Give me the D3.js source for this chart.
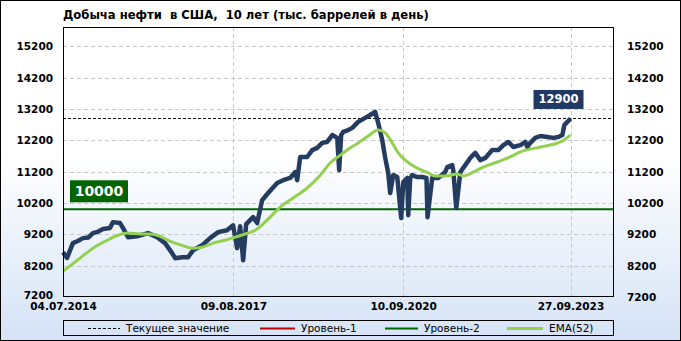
<!DOCTYPE html>
<html>
<head>
<meta charset="utf-8">
<script src="https://cdn.jsdelivr.net/npm/d3@7"></script>
<style>
  body { margin: 0; padding: 0; }
  svg { display: block; }
  text { font-family: "DejaVu Sans", Verdana, sans-serif; }
</style>
</head>
<body>
<div id="chart"></div>
<script>
// weekly production, thousand barrels per day
const prodDates = ['2014-07-04','2014-07-31','2014-09-08','2014-10-10','2014-11-14','2014-12-20','2015-01-19','2015-02-20','2015-03-27','2015-05-12','2015-06-01',
  '2015-07-18','2015-08-07','2015-09-09','2015-11-08','2016-01-20','2016-03-20','2016-05-12','2016-06-28','2016-07-18',
  '2016-09-02','2016-10-12','2016-11-14','2017-01-13','2017-03-07','2017-04-30','2017-06-28','2017-08-07','2017-09-03',
  '2017-09-23','2017-10-13','2017-11-02','2017-11-15','2017-12-18','2018-01-14','2018-02-16','2018-03-28','2018-05-27',
  '2018-07-06','2018-08-21','2018-09-24','2018-10-07','2018-10-27','2018-12-12','2019-01-15','2019-02-17','2019-03-22',
  '2019-04-24','2019-05-28','2019-06-30','2019-07-13','2019-07-26','2019-08-09','2019-09-11','2019-10-08','2019-11-16',
  '2020-01-02','2020-02-04','2020-03-08','2020-03-28','2020-04-24','2020-05-14','2020-06-03','2020-06-16','2020-07-06',
  '2020-08-02','2020-08-09','2020-08-28','2020-09-11','2020-10-07','2020-10-14','2020-10-27','2020-11-09','2020-12-13',
  '2021-01-15','2021-02-12','2021-02-19','2021-03-22','2021-05-01','2021-06-17','2021-06-30','2021-08-02','2021-08-09',
  '2021-08-29','2021-09-25','2021-10-28','2021-11-30','2022-01-02','2022-02-05','2022-03-10','2022-04-25','2022-06-04',
  '2022-07-08','2022-08-10','2022-09-12','2022-10-29','2022-12-01','2022-12-14','2023-01-03','2023-02-05','2023-03-11',
  '2023-04-26','2023-06-05','2023-07-08','2023-08-04','2023-08-17','2023-09-06','2023-09-27'];
const prodValues = [8630,8450,8920,8990,9080,9100,9240,9280,9370,9400,9590,
  9560,9400,9110,9140,9240,9110,8920,8600,8440,
  8470,8470,8690,8850,9080,9270,9330,9490,8760,
  9460,8370,9530,9590,9750,9560,10290,10520,10840,
  10930,11000,11190,10930,11670,11670,11890,11960,12120,
  12150,12370,12280,11250,12370,12470,12530,12600,12790,
  12920,13010,13110,12760,12210,11640,11160,10520,11090,
  11030,10680,9720,10870,11000,9810,11000,11090,11030,
  11030,11000,9750,11000,11000,11190,11350,11410,11250,
  10040,11190,11410,11640,11800,11570,11640,11890,11890,
  12050,12150,11990,12050,12150,11990,12120,12280,12340,
  12310,12280,12310,12370,12690,12790,12900];

// EMA(52)
const emaDates = ['2014-07-04','2014-10-25','2015-01-19','2015-04-23','2015-07-05','2015-09-03','2015-11-28','2016-02-02',
  '2016-04-09','2016-06-01','2016-09-02','2016-11-08','2017-01-13','2017-03-28','2017-06-15','2017-08-21','2017-10-26',
  '2018-01-01','2018-04-10','2018-06-16','2018-09-10','2018-12-12','2019-03-09','2019-05-14','2019-07-20','2019-09-24',
  '2019-11-16','2020-01-22','2020-03-28','2020-05-14','2020-06-30','2020-08-08','2020-09-24','2020-11-29','2021-02-24',
  '2021-04-11','2021-06-17','2021-09-05','2021-10-15','2021-12-20','2022-02-25','2022-05-29','2022-08-23','2022-10-29',
  '2023-03-11','2023-07-22','2023-09-27'];
const emaValues = [8020,8440,8760,9010,9170,9240,9210,9210,
  9140,9010,8850,8760,8790,8920,9010,9110,9210,
  9330,9750,10070,10360,10680,11090,11480,11730,11960,
  12120,12340,12530,12440,12120,11800,11570,11350,11160,
  11060,11060,11130,11060,11190,11350,11510,11670,11830,
  11990,12150,12370];

const yTicks = [7200, 8200, 9200, 10200, 11200, 12200, 13200, 14200, 15200];
const xTickDates = ['2014-07-04', '2017-08-09', '2020-09-10', '2023-09-27'];
const currentValue = 12900;
const level2 = 10000;
const title = 'Добыча нефти  в США,  10 лет (тыс. баррелей в день)';

const parse = d3.timeParse('%Y-%m-%d');
const fmt = d3.timeFormat('%d.%m.%Y');
const prod = prodDates.map((d, i) => ({ date: parse(d), value: prodValues[i] }));
const ema = emaDates.map((d, i) => ({ date: parse(d), value: emaValues[i] }));

const W = 681, H = 341;
const margin = { top: 27, right: 67, bottom: 44, left: 63 };
const width = W - margin.left - margin.right,
      height = H - margin.top - margin.bottom;

const svg = d3.select('#chart').append('svg')
  .attr('width', W)
  .attr('height', H);

const grad = svg.append('defs').append('linearGradient')
  .attr('id', 'bg').attr('x1', 0).attr('y1', 0).attr('x2', 0).attr('y2', 1);
grad.append('stop').attr('offset', '0%').attr('stop-color', '#ffffff');
grad.append('stop').attr('offset', '45%').attr('stop-color', '#ffffff');
grad.append('stop').attr('offset', '100%').attr('stop-color', '#d5e3f6');

svg.append('rect')
  .attr('x', 0.5).attr('y', 0.5)
  .attr('width', W - 1).attr('height', H - 1)
  .attr('fill', 'url(#bg)')
  .attr('stroke', '#000');

svg.append('text')
  .attr('x', margin.left)
  .attr('y', 19)
  .attr('font-size', 11.6)
  .attr('font-weight', 'bold')
  .attr('fill', '#000')
  .style('white-space', 'pre')
  .text(title);

const x = d3.scaleTime()
  .domain([parse('2014-07-04'), parse('2024-07-12')])
  .range([0, width]);

const y = d3.scaleLinear()
  .domain([7200, 15820])
  .range([height, 0]);

const g = svg.append('g')
  .attr('transform', `translate(${margin.left},${margin.top})`);

// grid
g.selectAll('.hgrid')
  .data(yTicks.slice(1))
  .enter().append('line')
  .attr('x1', 0).attr('x2', width)
  .attr('y1', d => Math.round(y(d)) + 0.5)
  .attr('y2', d => Math.round(y(d)) + 0.5)
  .attr('stroke', '#c8c8c8')
  .attr('stroke-dasharray', '4,3');

g.selectAll('.vgrid')
  .data(xTickDates.slice(1).map(parse))
  .enter().append('line')
  .attr('y1', 0).attr('y2', height)
  .attr('x1', d => Math.round(x(d)) + 0.5)
  .attr('x2', d => Math.round(x(d)) + 0.5)
  .attr('stroke', '#c8c8c8')
  .attr('stroke-dasharray', '4,3');

// axes
const yLeft = g.append('g')
  .call(d3.axisLeft(y).tickValues(yTicks).tickSize(0).tickPadding(10).tickFormat(d3.format('d')));
const yRight = g.append('g')
  .attr('transform', `translate(${width},0)`)
  .call(d3.axisRight(y).tickValues(yTicks).tickSize(0).tickPadding(13).tickFormat(d3.format('d')));
const xAxis = g.append('g')
  .attr('transform', `translate(0,${height})`)
  .call(d3.axisBottom(x).tickValues(xTickDates.map(parse)).tickSize(0).tickPadding(6).tickFormat(fmt));

[yLeft, yRight, xAxis].forEach(a => {
  a.select('.domain').remove();
  a.selectAll('text')
    .attr('font-family', '"DejaVu Sans", Verdana, sans-serif')
    .attr('font-size', 10.5)
    .attr('font-weight', 'bold')
    .attr('fill', '#000');
});
yLeft.selectAll('text').filter(d => d === 7200).attr('dy', '0.1em');

// level-2
g.append('line')
  .attr('x1', 0).attr('x2', width)
  .attr('y1', y(level2)).attr('y2', y(level2))
  .attr('stroke', '#006400')
  .attr('stroke-width', 2);

// current value
g.append('line')
  .attr('x1', 0).attr('x2', width)
  .attr('y1', Math.round(y(currentValue)) + 0.5).attr('y2', Math.round(y(currentValue)) + 0.5)
  .attr('stroke', '#000')
  .attr('stroke-dasharray', '3,2');

const line = d3.line()
  .x(d => x(d.date))
  .y(d => y(d.value));

g.append('path')
  .datum(prod)
  .attr('fill', 'none')
  .attr('stroke', '#243c5f')
  .attr('stroke-width', 4.5)
  .attr('stroke-linejoin', 'round')
  .attr('d', line);

g.append('path')
  .datum(ema)
  .attr('fill', 'none')
  .attr('stroke', '#92d050')
  .attr('stroke-width', 3)
  .attr('d', line.curve(d3.curveMonotoneX));

// plot frame
g.append('rect')
  .attr('x', 0.5).attr('y', 0.5)
  .attr('width', width - 1).attr('height', height - 1)
  .attr('fill', 'none')
  .attr('stroke', '#000');

// value labels
function valueLabel(cx, cy, w, h, fill, size, txt) {
  g.append('rect')
    .attr('x', cx - w / 2).attr('y', cy - h / 2)
    .attr('width', w).attr('height', h)
    .attr('fill', fill);
  g.append('text')
    .attr('x', cx).attr('y', cy)
    .attr('text-anchor', 'middle')
    .attr('dominant-baseline', 'central')
    .attr('font-size', size)
    .attr('font-weight', 'bold')
    .attr('fill', '#fff')
    .text(txt);
}
const lastPoint = prod[prod.length - 1];
valueLabel(x(lastPoint.date) - 12, y(currentValue) - 19, 50, 19, '#1f3864', 11.5, d3.format('d')(currentValue));
valueLabel(36, y(level2) - 18, 58, 22, '#006400', 14, d3.format('d')(level2));

// legend
const legend = svg.append('g');
legend.append('rect')
  .attr('x', 63.5).attr('y', 320.5)
  .attr('width', 550).attr('height', 15)
  .attr('fill', 'none')
  .attr('stroke', '#000');

const legendItems = [
  { label: 'Текущее значение', color: '#000', width: 1, dash: '3,2', x0: 88, x1: 120 },
  { label: 'Уровень-1', color: '#c00000', width: 2, dash: null, x0: 260, x1: 295 },
  { label: 'Уровень-2', color: '#006400', width: 2, dash: null, x0: 385, x1: 418 },
  { label: 'EMA(52)', color: '#92d050', width: 3, dash: null, x0: 507, x1: 543 }
];
legendItems.forEach(it => {
  legend.append('line')
    .attr('x1', it.x0).attr('x2', it.x1)
    .attr('y1', 328.5).attr('y2', 328.5)
    .attr('stroke', it.color)
    .attr('stroke-width', it.width)
    .attr('stroke-dasharray', it.dash);
  legend.append('text')
    .attr('x', it.x1 + 6)
    .attr('y', 328)
    .attr('dominant-baseline', 'central')
    .attr('font-size', 10.5)
    .attr('fill', '#000')
    .text(it.label);
});
</script>
</body>
</html>
